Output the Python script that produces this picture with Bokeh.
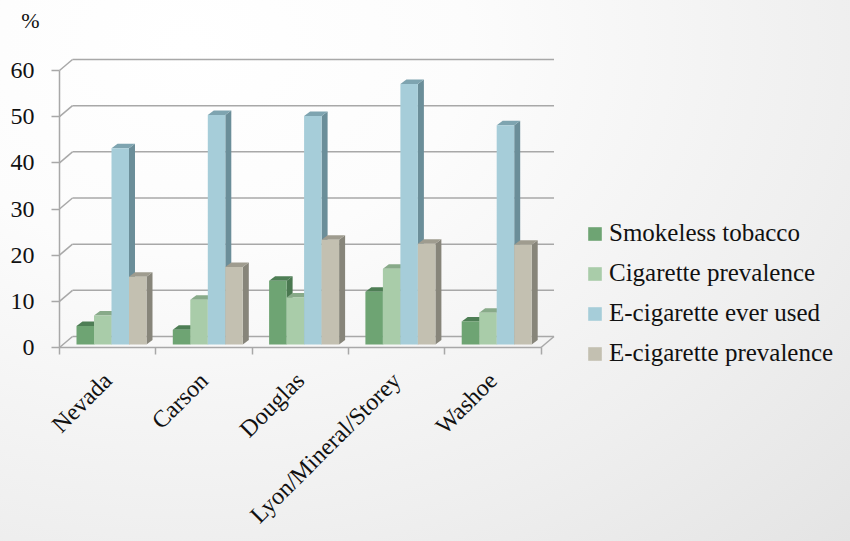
import math
from bokeh.plotting import figure
from bokeh.models import (Range1d, FixedTicker, Legend, LegendItem, Label,
                          ColumnDataSource)
from bokeh.embed import file_html
from bokeh.resources import INLINE

# ---------------- data ----------------
categories = ["Nevada", "Carson", "Douglas", "Lyon/Mineral/Storey", "Washoe"]
series_names = ["Smokeless tobacco", "Cigarette prevalence",
                "E-cigarette ever used", "E-cigarette prevalence"]
smokeless = [4.0, 3.2, 13.8, 11.4, 5.0]
cigarette = [6.3, 9.7, 10.2, 16.4, 6.9]
ecig_ever = [42.5, 49.7, 49.5, 56.4, 47.5]
ecig_prev = [14.7, 16.8, 22.7, 21.8, 21.6]
y_ticks = [0, 10, 20, 30, 40, 50, 60]
y_title = "%"

series = [smokeless, cigarette, ecig_ever, ecig_prev]

# ---------------- styles ----------------
front_colors = ["#6ea473", "#a9cca9", "#a6cdd9", "#c3c0b1"]
top_colors = ["#4e7e55", "#88aa89", "#7ea4b0", "#9f9c8f"]
side_colors = ["#4a7850", "#7f9f80", "#6b8e99", "#87857a"]
grid_color = "#a8a8a8"
FONT = "Liberation Serif"
FS = "24px"

W, H = 850, 541
ox, oy = 59.0, 347.0           # pixel position of the data origin
px_cat = 96.3
px_unit = 277.0 / 60.0

# 3D geometry (in data units)
dx = 13.0 / px_cat          # wall depth, x
dy = 11.0 / px_unit         # wall depth, y
sdx = 6.0 / px_cat          # bar depth, x
sdy = 4.5 / px_unit         # bar depth, y
b0 = 3.0 / px_unit          # bar base above front floor edge
bar_start = 17.0 / px_cat
bar_w = 17.5 / px_cat

p = figure(width=W, height=H, output_backend="svg", toolbar_location=None,
           x_range=Range1d(-ox / px_cat, (W - ox) / px_cat),
           y_range=Range1d((oy - H) / px_unit, oy / px_unit),
           min_border_left=0, min_border_right=0, min_border_top=0,
           min_border_bottom=0)
p.grid.visible = False
p.outline_line_color = None
p.background_fill_color = None
p.border_fill_color = None

try:
    from bokeh.models import GlobalInlineStyleSheet
    css = ("html, body { min-height: 100%; background: radial-gradient(ellipse at 22% 8%, "
           "#ffffff 0%, #fcfcfc 30%, #efefef 70%, #e4e4e4 100%) fixed; }")
    p.stylesheets = [GlobalInlineStyleSheet(css=css)]
except Exception:
    p.styles = {"background": "radial-gradient(ellipse at 22% 8%, #ffffff 0%, #fcfcfc 30%, #efefef 70%, #e4e4e4 100%)"}

n = len(categories)

# walls / gridlines
p.segment(x0=[dx] * len(y_ticks), x1=[n + dx] * len(y_ticks),
          y0=[v + dy for v in y_ticks], y1=[v + dy for v in y_ticks],
          line_color=grid_color, line_width=1.5)
p.segment(x0=[0] * len(y_ticks), x1=[dx] * len(y_ticks),
          y0=y_ticks, y1=[v + dy for v in y_ticks],
          line_color=grid_color, line_width=1.5)
p.segment(x0=[n], x1=[n + dx], y0=[0], y1=[dy],
          line_color=grid_color, line_width=1.5)

# bars
front_renderers = []
for k, vals in enumerate(series):
    x0 = [i + bar_start + k * bar_w for i in range(n)]
    x1 = [a + bar_w for a in x0]
    tops = [b0 + v for v in vals]
    side_xs = [[a, a + sdx, a + sdx, a] for a in x1]
    side_ys = [[b0, b0 + sdy, t + sdy, t] for t in tops]
    top_xs = [[a, c, c + sdx, a + sdx] for a, c in zip(x0, x1)]
    top_ys = [[t, t, t + sdy, t + sdy] for t in tops]
    p.patches(xs=side_xs, ys=side_ys, fill_color=side_colors[k], line_color=None)
    p.patches(xs=top_xs, ys=top_ys, fill_color=top_colors[k], line_color=None)
    src = ColumnDataSource(dict(left=x0, right=x1, bottom=[b0] * n, top=tops,
                                cat=categories, val=vals))
    r = p.quad(left="left", right="right", bottom="bottom", top="top", source=src,
               fill_color=front_colors[k], line_color=None)
    front_renderers.append(r)

# x axis (floor front edge)
xa = p.xaxis[0]
xa.fixed_location = 0
label_pos = [i + 0.5 for i in range(n)]
xa.ticker = FixedTicker(ticks=label_pos, minor_ticks=list(range(n + 1)))
xa.major_label_overrides = {t: c for t, c in zip(label_pos, categories)}
xa.major_label_orientation = math.pi / 4
xa.bounds = (0, n)
xa.axis_line_color = grid_color
xa.axis_line_width = 1.5
xa.major_tick_line_color = None
xa.major_tick_out = 0
xa.major_tick_in = 0
xa.minor_tick_line_color = grid_color
xa.minor_tick_line_width = 1.5
xa.minor_tick_out = 7
xa.minor_tick_in = 0
xa.major_label_standoff = 22
xa.major_label_text_font = FONT
xa.major_label_text_font_size = FS
xa.major_label_text_color = "#111111"

# y axis (front left edge)
ya = p.yaxis[0]
ya.fixed_location = 0
ya.ticker = FixedTicker(ticks=y_ticks, minor_ticks=[])
ya.bounds = (0, 60)
ya.axis_line_color = grid_color
ya.axis_line_width = 1.5
ya.major_tick_line_color = grid_color
ya.major_tick_line_width = 1.5
ya.major_tick_out = 8
ya.major_tick_in = 0
ya.minor_tick_line_color = None
ya.major_label_standoff = 17
ya.major_label_text_font = FONT
ya.major_label_text_font_size = FS
ya.major_label_text_color = "#111111"

# "%" title
p.add_layout(Label(x=(30 - ox) / px_cat, y=(oy - 20) / px_unit, text=y_title,
                   text_font=FONT, text_font_size="22px", text_color="#111111",
                   text_align="center", text_baseline="middle"))

# legend
legend = Legend(items=[LegendItem(label=s, renderers=[r])
                       for s, r in zip(series_names, front_renderers)],
                location=(586, H - 367), orientation="vertical",
                glyph_width=17, glyph_height=17, label_standoff=6,
                spacing=12, padding=0, margin=0, label_height=28,
                border_line_color=None, background_fill_alpha=0,
                label_text_font=FONT, label_text_font_size="25px",
                label_text_color="#111111")
p.add_layout(legend)

open("out.html", "w").write(file_html(p, INLINE))
